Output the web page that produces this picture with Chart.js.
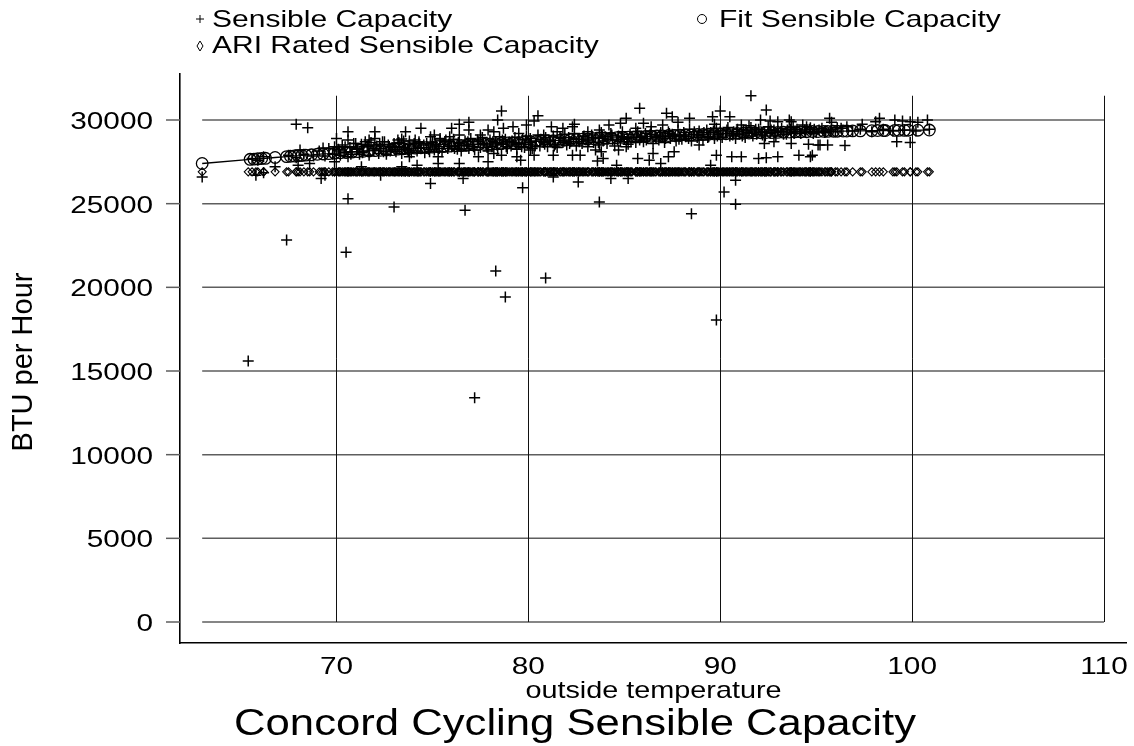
<!DOCTYPE html>
<html>
<head>
<meta charset="utf-8">
<script src="https://cdn.jsdelivr.net/npm/chart.js@4.4.0/dist/chart.umd.min.js"></script>
<style>
  html,body{margin:0;padding:0;background:#fff;}
</style>
</head>
<body>
<canvas id="mycanvas" width="1134" height="746"></canvas>
<script>

const xTicks=[70,80,90,100,110];
const yTicks=[0,5000,10000,15000,20000,25000,30000];
const legendNames=["Sensible Capacity","Fit Sensible Capacity","ARI Rated Sensible Capacity"];
const xTitle="outside temperature";
const yTitle="BTU per Hour";
const mainTitle="Concord Cycling Sensible Capacity";

// ARI rated capacity (flat)
const ariRated=26900;

// measured sensible capacity [temp, btu/h]
const sensibleCapacity=[
 [63.0,26600],[65.4,15600],[65.6,27700],[65.8,26700],[65.9,27600],[66.2,26850],[66.2,27800],[66.8,27200],
 [67.4,22830],[67.5,27900],[67.9,29740],[67.9,27750],[68.5,29540],[68.1,28200],[68.0,27300],[68.3,27950],
 [68.6,27400],[68.8,27850],[69.2,26500],[69.3,28330],
 [69.1,28150],[69.4,27850],[69.6,28300],[69.8,27950],[69.9,28400],
 [70.1,28250],[70.2,27900],[70.3,28500],[70.4,28050],[70.6,27800],[70.7,28350],[70.8,28100],[70.9,28600],
 [71.1,28300],[71.2,27950],[71.3,28550],[71.4,28150],[71.6,28400],[71.7,27900],[71.8,28650],[71.9,28200],
 [72.1,28450],[72.2,28000],[72.3,28300],[72.5,28700],[72.6,27950],[72.7,28500],[72.8,28150],[72.9,28350],
 [73.0,28600],[73.1,28100],[73.3,28400],[73.4,28000],[73.5,28750],[73.6,28250],[73.8,28550],[73.9,28050],
 [74.0,28450],[74.2,28150],[74.3,28700],[74.4,28350],[74.6,28050],[74.7,28600],[74.8,28250],[74.9,28500],
 [75.0,28650],[75.1,28200],[75.2,28450],[75.4,28800],[75.5,28100],[75.6,28550],[75.8,28300],[75.9,28700],
 [76.0,28400],[76.1,28850],[76.3,28250],[76.4,28600],[76.5,28150],[76.7,28750],[76.8,28450],[76.9,28300],
 [77.0,28900],[77.1,28550],[77.2,28200],[77.4,28700],[77.5,28350],[77.6,28950],[77.8,28500],[77.9,28150],
 [78.0,28800],[78.1,28400],[78.3,28650],[78.4,28250],[78.5,29000],[78.7,28550],[78.8,28850],[78.9,28300],
 [79.0,28700],[79.1,28450],[79.3,28950],[79.4,28250],[79.5,28600],[79.7,28850],[79.8,28350],[79.9,29050],
 [80.0,28550],[80.1,28900],[80.2,28300],[80.4,28750],[80.5,29100],[80.6,28450],[80.8,28650],[80.9,28950],
 [81.0,28400],[81.1,28800],[81.3,29050],[81.4,28550],[81.5,28350],[81.7,28900],[81.8,28650],[81.9,29150],
 [82.0,28500],[82.1,28950],[82.2,28700],[82.4,29200],[82.5,28450],[82.6,28850],[82.8,28600],[82.9,29050],
 [83.0,28800],[83.1,28400],[83.3,29100],[83.4,28650],[83.5,28950],[83.7,28500],[83.8,29250],[83.9,28750],
 [84.0,29000],[84.1,28600],[84.3,29200],[84.4,28800],[84.5,28450],[84.7,29050],[84.8,28700],[84.9,29300],
 [85.0,28850],[85.2,28550],[85.3,29150],[85.4,28950],[85.6,28650],[85.7,29300],[85.8,28800],[85.9,29050],
 [86.0,28700],[86.1,29200],[86.2,28900],[86.4,29350],[86.5,28600],[86.6,29050],[86.8,28800],[86.9,29250],
 [87.0,29000],[87.1,28650],[87.3,29300],[87.4,28900],[87.5,29150],[87.7,28750],[87.8,29400],[87.9,29050],
 [88.0,28850],[88.1,29250],[88.2,29000],[88.4,29450],[88.5,28750],[88.6,29150],[88.8,28950],[88.9,29350],
 [89.0,29100],[89.1,28800],[89.3,29400],[89.4,29000],[89.5,29250],[89.7,28900],[89.8,29500],[89.9,29150],
 [90.0,29350],[90.1,28950],[90.3,29200],[90.4,29550],[90.5,29050],[90.7,29300],[90.8,28900],[90.9,29450],
 [91.0,29150],[91.2,29400],[91.3,28950],[91.4,29250],[91.6,29550],[91.7,29050],[91.8,29350],[91.9,29150],
 [92.0,29450],[92.2,29100],[92.3,29300],[92.5,29600],[92.6,29200],[92.8,29400],[92.9,29050],
 [93.0,29350],[93.2,29500],[93.3,29150],[93.5,29400],[93.7,29250],[93.8,29550],[93.9,29300],
 [94.0,29450],[94.2,29200],[94.4,29400],[94.5,29600],[94.7,29300],[94.9,29450],
 [95.0,29250],[95.3,29500],[95.5,29350],[95.8,29450],[96.0,29300],
 [96.3,29500],[96.9,29350],[97.3,29450],[97.9,29300],[98.5,29450],[99.0,29350],[99.6,29400],[100.2,29350],[100.9,29450],
 [70.15,28150],[70.45,28400],[70.75,27950],[71.05,28250],[71.35,28050],[71.65,28500],[71.95,28300],[72.25,28550],
 [72.45,28100],[72.75,28400],[73.05,28200],[73.25,28650],[73.55,28350],[73.75,28150],[74.05,28600],[74.25,28300],
 [74.55,28500],[74.85,28100],[75.15,28550],[75.35,28300],[75.65,28700],[75.85,28450],[76.15,28300],[76.35,28650],
 [76.65,28500],[76.85,28700],[77.15,28400],[77.35,28800],[77.65,28600],[77.85,28350],[78.15,28700],[78.35,28500],
 [78.65,28800],[78.85,28400],[79.15,28750],[79.35,28550],[79.65,28400],[79.85,28800],[80.15,28650],[80.35,28450],
 [80.65,28850],[80.85,28550],[81.15,28700],[81.35,28450],[81.65,28950],[81.85,28750],[82.15,28600],[82.35,28900],
 [82.65,28700],[82.85,29000],[83.15,28750],[83.35,28950],[83.65,28650],[83.85,29050],[84.15,28850],[84.35,29100],
 [84.65,28800],[84.85,29000],[85.15,28900],[85.35,28700],[85.65,29100],[85.85,28950],[86.15,28800],[86.35,29150],
 [86.65,28950],[86.85,29100],[87.15,28900],[87.35,29200],[87.65,29000],[87.85,28850],[88.15,29100],[88.35,28900],
 [88.65,29300],[88.85,29050],[89.15,29250],[89.35,28950],[89.65,29350],[89.85,29050],[90.15,29200],[90.35,29400],
 [90.65,29100],[90.85,29300],[91.15,29050],[91.35,29350],[91.65,29200],[91.85,29450],[92.15,29250],[92.35,29050],
 [92.65,29400],[92.85,29250],[93.15,29300],[93.45,29150],[93.65,29450],[93.85,29200],[94.15,29350],[94.45,29250],
 [94.65,29450],[94.85,29200],[95.15,29400],[95.45,29250],[95.75,29350],
 [70.0,28900],[70.6,29300],[70.6,28800],[72.0,29300],[73.6,29300],[74.4,29500],[71.0,28600],[71.5,28700],
 [71.7,28800],[72.0,28900],[72.4,28700],[73.2,28800],[73.4,28860],[73.8,28750],[74.1,28800],[74.3,28600],
 [74.9,29000],[75.1,29100],[75.4,28900],[75.7,28800],
 [69.9,27500],[69.4,26700],[73.8,27800],[73.7,28200],[74.2,27300],[74.9,26200],[75.3,27400],[75.3,27800],
 [71.3,27200],[72.3,26700],[73.4,27200],[70.6,25300],[73.0,24800],[70.5,22100],
 [78.6,30540],[78.4,30000],[76.4,29740],[76.9,29860],[76.9,29400],[76.0,29500],[80.5,30260],[80.3,29940],
 [79.9,29700],[79.2,29600],[78.7,29500],[77.9,29400],[78.2,29300],[81.2,29600],[81.8,29500],[82.3,29600],
 [76.4,29100],[75.9,29000],[77.5,29100],[79.5,29200],[80.8,29100],[81.5,29300],
 [77.4,27800],[77.9,27500],[78.2,28000],[78.6,27900],[79.4,27800],[79.6,27600],[80.3,27900],[81.3,27900],
 [82.3,27900],[76.4,27400],[76.6,26500],[81.3,26600],[79.7,25950],[76.7,24600],[80.1,28200],
 [77.2,13400],[78.3,20980],[78.8,19420],[80.9,20560],
 [85.8,30700],[87.2,30400],[87.5,30200],[85.1,30100],[84.8,29800],[88.4,30100],[87.8,29860],[82.4,29740],
 [84.2,29700],[86.0,29800],[86.4,29600],[87.0,29700],[83.7,29400],[85.6,29500],[83.1,29300],
 [82.7,27900],[83.5,28200],[83.8,28100],[83.9,27700],[83.6,27550],[84.7,28200],[85.7,27700],[86.3,27600],
 [86.5,28000],[86.9,27400],[87.3,27800],[87.6,28100],[85.1,28400],[82.6,26300],[84.3,26500],[85.2,26500],
 [83.7,25100],[88.5,24400],[84.6,27300],
 [91.6,31450],[92.4,30600],[90.0,30540],[89.6,30200],[90.5,30200],[92.1,30000],[92.6,29940],[93.0,29900],
 [93.6,30000],[93.7,29900],[89.7,29740],[91.1,29700],[91.5,29660],[94.3,29700],[94.7,29540],
 [92.3,28600],[93.7,28600],[94.6,28550],[95.1,28500],[92.8,28700],[94.1,27900],[94.7,27800],[94.8,27900],
 [90.6,27800],[91.1,27800],[92.0,27700],[92.4,27750],[93.0,27800],[89.8,27900],[89.5,27300],[90.8,26400],
 [90.2,25700],[90.8,24960],[88.9,28500],[89.8,18050],
 [95.7,30100],[95.8,29860],[98.3,30100],[98.1,29900],[99.1,30000],[99.5,29940],[99.9,29900],[100.3,29860],
 [100.8,30000],[97.4,29740],[96.6,29600],[96.1,29540],[95.2,28500],[95.6,28500],[96.5,28470],[99.2,28700],[99.9,28660]
];

// fitted curve, one circle per observed temperature [temp, btu/h]
const fitCapacity=[
 [63.0,27400],[65.5,27650],[65.7,27660],[65.9,27680],[66.1,27700],[66.3,27710],[66.8,27760],[67.4,27810],
 [67.6,27830],[67.8,27850],[68.0,27860],[68.2,27880],[68.4,27900],[68.7,27920],[69.0,27950],[69.3,27970],
 [69.6,27990],[69.9,28020],[70.2,28040],[70.5,28060],[70.8,28080],[71.1,28110],[71.4,28130],[71.7,28150],
 [72.0,28170],[72.3,28190],[72.6,28210],[72.9,28230],[73.2,28260],[73.5,28280],[73.8,28300],[74.1,28320],
 [74.4,28340],[74.7,28360],[75.0,28380],[75.3,28400],[75.6,28420],[75.9,28440],[76.2,28460],[76.5,28480],
 [76.8,28500],[77.1,28520],[77.4,28540],[77.7,28550],[78.0,28570],[78.3,28590],[78.6,28610],[78.9,28630],
 [79.2,28650],[79.5,28660],[79.8,28680],[80.1,28700],[80.4,28720],[80.7,28730],[81.0,28750],[81.3,28770],
 [81.6,28780],[81.9,28800],[82.2,28820],[82.5,28830],[82.8,28850],[83.1,28870],[83.4,28880],[83.7,28900],
 [84.0,28910],[84.3,28930],[84.6,28940],[84.9,28960],[85.2,28970],[85.5,28990],[85.8,29000],[86.1,29010],
 [86.4,29030],[86.7,29040],[87.0,29050],[87.3,29070],[87.6,29080],[87.9,29090],[88.2,29100],[88.5,29110],
 [88.8,29130],[89.1,29140],[89.4,29150],[89.7,29160],[90.0,29170],[90.3,29180],[90.6,29190],[90.9,29200],
 [91.2,29210],[91.5,29220],[91.8,29230],[92.1,29240],[92.4,29250],[92.7,29250],[93.0,29260],[93.3,29270],
 [93.6,29280],[93.9,29290],[94.2,29290],[94.5,29300],[94.8,29310],[95.1,29310],[95.4,29320],[95.6,29320],
 [95.9,29330],[96.1,29330],[96.4,29340],[96.6,29340],[96.9,29350],[97.3,29350],[97.9,29360],[98.2,29370],
 [98.5,29370],[98.6,29370],[99.1,29380],[99.3,29380],[99.6,29380],[99.8,29390],[100.3,29390],[100.9,29400]
];

//-----------------------------------------------------------------------------------------

const FONT="'Liberation Sans', Arial, sans-serif";

function wideText(ctx,txt,x,y,align,size,sx){
    ctx.save();
    ctx.font=size+"px "+FONT;
    ctx.textAlign=align;
    ctx.textBaseline="alphabetic";
    ctx.translate(x,y);
    ctx.scale(sx,1);
    ctx.fillText(txt,0,0);
    ctx.restore();
}

const gridPlugin={
    id:"stataGrid",
    beforeDatasetsDraw(chart){
        const ctx=chart.ctx, xs=chart.scales.x, ys=chart.scales.y, area=chart.chartArea;
        const xLo=Math.min(...sensibleCapacity.map(p=>p[0]));
        const yHi=Math.max(...sensibleCapacity.map(p=>p[1]));
        ctx.save();
        ctx.strokeStyle="#5e5e5e";
        ctx.lineWidth=1.5;
        yTicks.forEach(v=>{
            const y=ys.getPixelForValue(v);
            ctx.beginPath();
            ctx.moveTo(xs.getPixelForValue(xLo),y);
            ctx.lineTo(xs.getPixelForValue(xTicks[xTicks.length-1]),y);
            ctx.stroke();
            // tick mark outside the axis
            ctx.beginPath();
            ctx.moveTo(area.left-14,y);
            ctx.lineTo(area.left,y);
            ctx.stroke();
        });
        ctx.strokeStyle="#111";
        ctx.lineWidth=1;
        xTicks.forEach(v=>{
            const x=Math.round(xs.getPixelForValue(v))+0.5;
            ctx.beginPath();
            ctx.moveTo(x,ys.getPixelForValue(0));
            ctx.lineTo(x,ys.getPixelForValue(yHi));
            ctx.stroke();
        });
        ctx.restore();
    }
};

const textPlugin={
    id:"stataText",
    afterDraw(chart){
        const ctx=chart.ctx, xs=chart.scales.x, ys=chart.scales.y, area=chart.chartArea;
        ctx.save();
        ctx.fillStyle="#000";
        ctx.strokeStyle="#000";
        ctx.lineWidth=1;
        yTicks.forEach(v=>wideText(ctx,String(v),153,ys.getPixelForValue(v)+9,"right",24,1.24));
        xTicks.forEach(v=>wideText(ctx,String(v),xs.getPixelForValue(v),674,"center",24,1.24));
        wideText(ctx,xTitle,(area.left+area.right)/2,698,"center",24,1.2);
        wideText(ctx,mainTitle,575,735,"center",37,1.18);

        // y axis title
        ctx.save();
        ctx.translate(32,362);
        ctx.rotate(-Math.PI/2);
        ctx.font="29px "+FONT;
        ctx.textAlign="center";
        ctx.fillText(yTitle,0,0);
        ctx.restore();

        // legend
        wideText(ctx,legendNames[0],212,27,"left",24,1.25);
        wideText(ctx,legendNames[1],719,27,"left",24,1.25);
        wideText(ctx,legendNames[2],212,53,"left",24,1.25);
        ctx.beginPath();
        ctx.moveTo(196,19); ctx.lineTo(204,19);
        ctx.moveTo(200,15); ctx.lineTo(200,23);
        ctx.stroke();
        ctx.beginPath();
        ctx.arc(702,19,4.5,0,Math.PI*2);
        ctx.stroke();
        ctx.beginPath();
        ctx.moveTo(200,41); ctx.lineTo(203,46); ctx.lineTo(200,51); ctx.lineTo(197,46); ctx.closePath();
        ctx.stroke();
        ctx.restore();
    }
};

function drawchart(){
    const canvas=document.getElementById("mycanvas");
    const ctx=canvas.getContext("2d");
    new Chart(ctx,{
        type:"scatter",
        data:{
            datasets:[{
                label:legendNames[0],
                data:sensibleCapacity.map(p=>({x:p[0],y:p[1]})),
                pointStyle:"cross",
                pointRadius:5.5,
                borderColor:"#000",
                borderWidth:1.5
            },{
                label:legendNames[1],
                data:fitCapacity.map(p=>({x:p[0],y:p[1]})),
                showLine:true,
                pointStyle:"circle",
                pointRadius:5.8,
                borderColor:"#000",
                backgroundColor:"rgba(0,0,0,0)",
                borderWidth:1.3,
                tension:0
            },{
                label:legendNames[2],
                data:sensibleCapacity.map(p=>({x:p[0],y:ariRated})),
                pointStyle:"rectRot",
                pointRadius:4,
                borderColor:"#000",
                backgroundColor:"rgba(0,0,0,0)",
                borderWidth:1.1
            }]
        },
        options:{
            responsive:false,
            animation:false,
            events:[],
            layout:{padding:{top:74,left:0,right:4,bottom:0}},
            plugins:{legend:{display:false},tooltip:{enabled:false}},
            scales:{
                x:{
                    type:"linear",
                    min:61.844,max:111.195,
                    afterBuildTicks:s=>{s.ticks=xTicks.map(v=>({value:v}));},
                    afterFit:s=>{s.height=103;},
                    ticks:{display:false},
                    grid:{display:false},
                    border:{display:true,color:"#000",width:1.6}
                },
                y:{
                    type:"linear",
                    min:-1255,max:32749,
                    afterBuildTicks:s=>{s.ticks=yTicks.map(v=>({value:v}));},
                    afterFit:s=>{s.width=180;},
                    ticks:{display:false},
                    grid:{display:false},
                    border:{display:true,color:"#000",width:1.6}
                }
            }
        },
        plugins:[gridPlugin,textPlugin]
    });
}

drawchart();
</script>
</body>
</html>
